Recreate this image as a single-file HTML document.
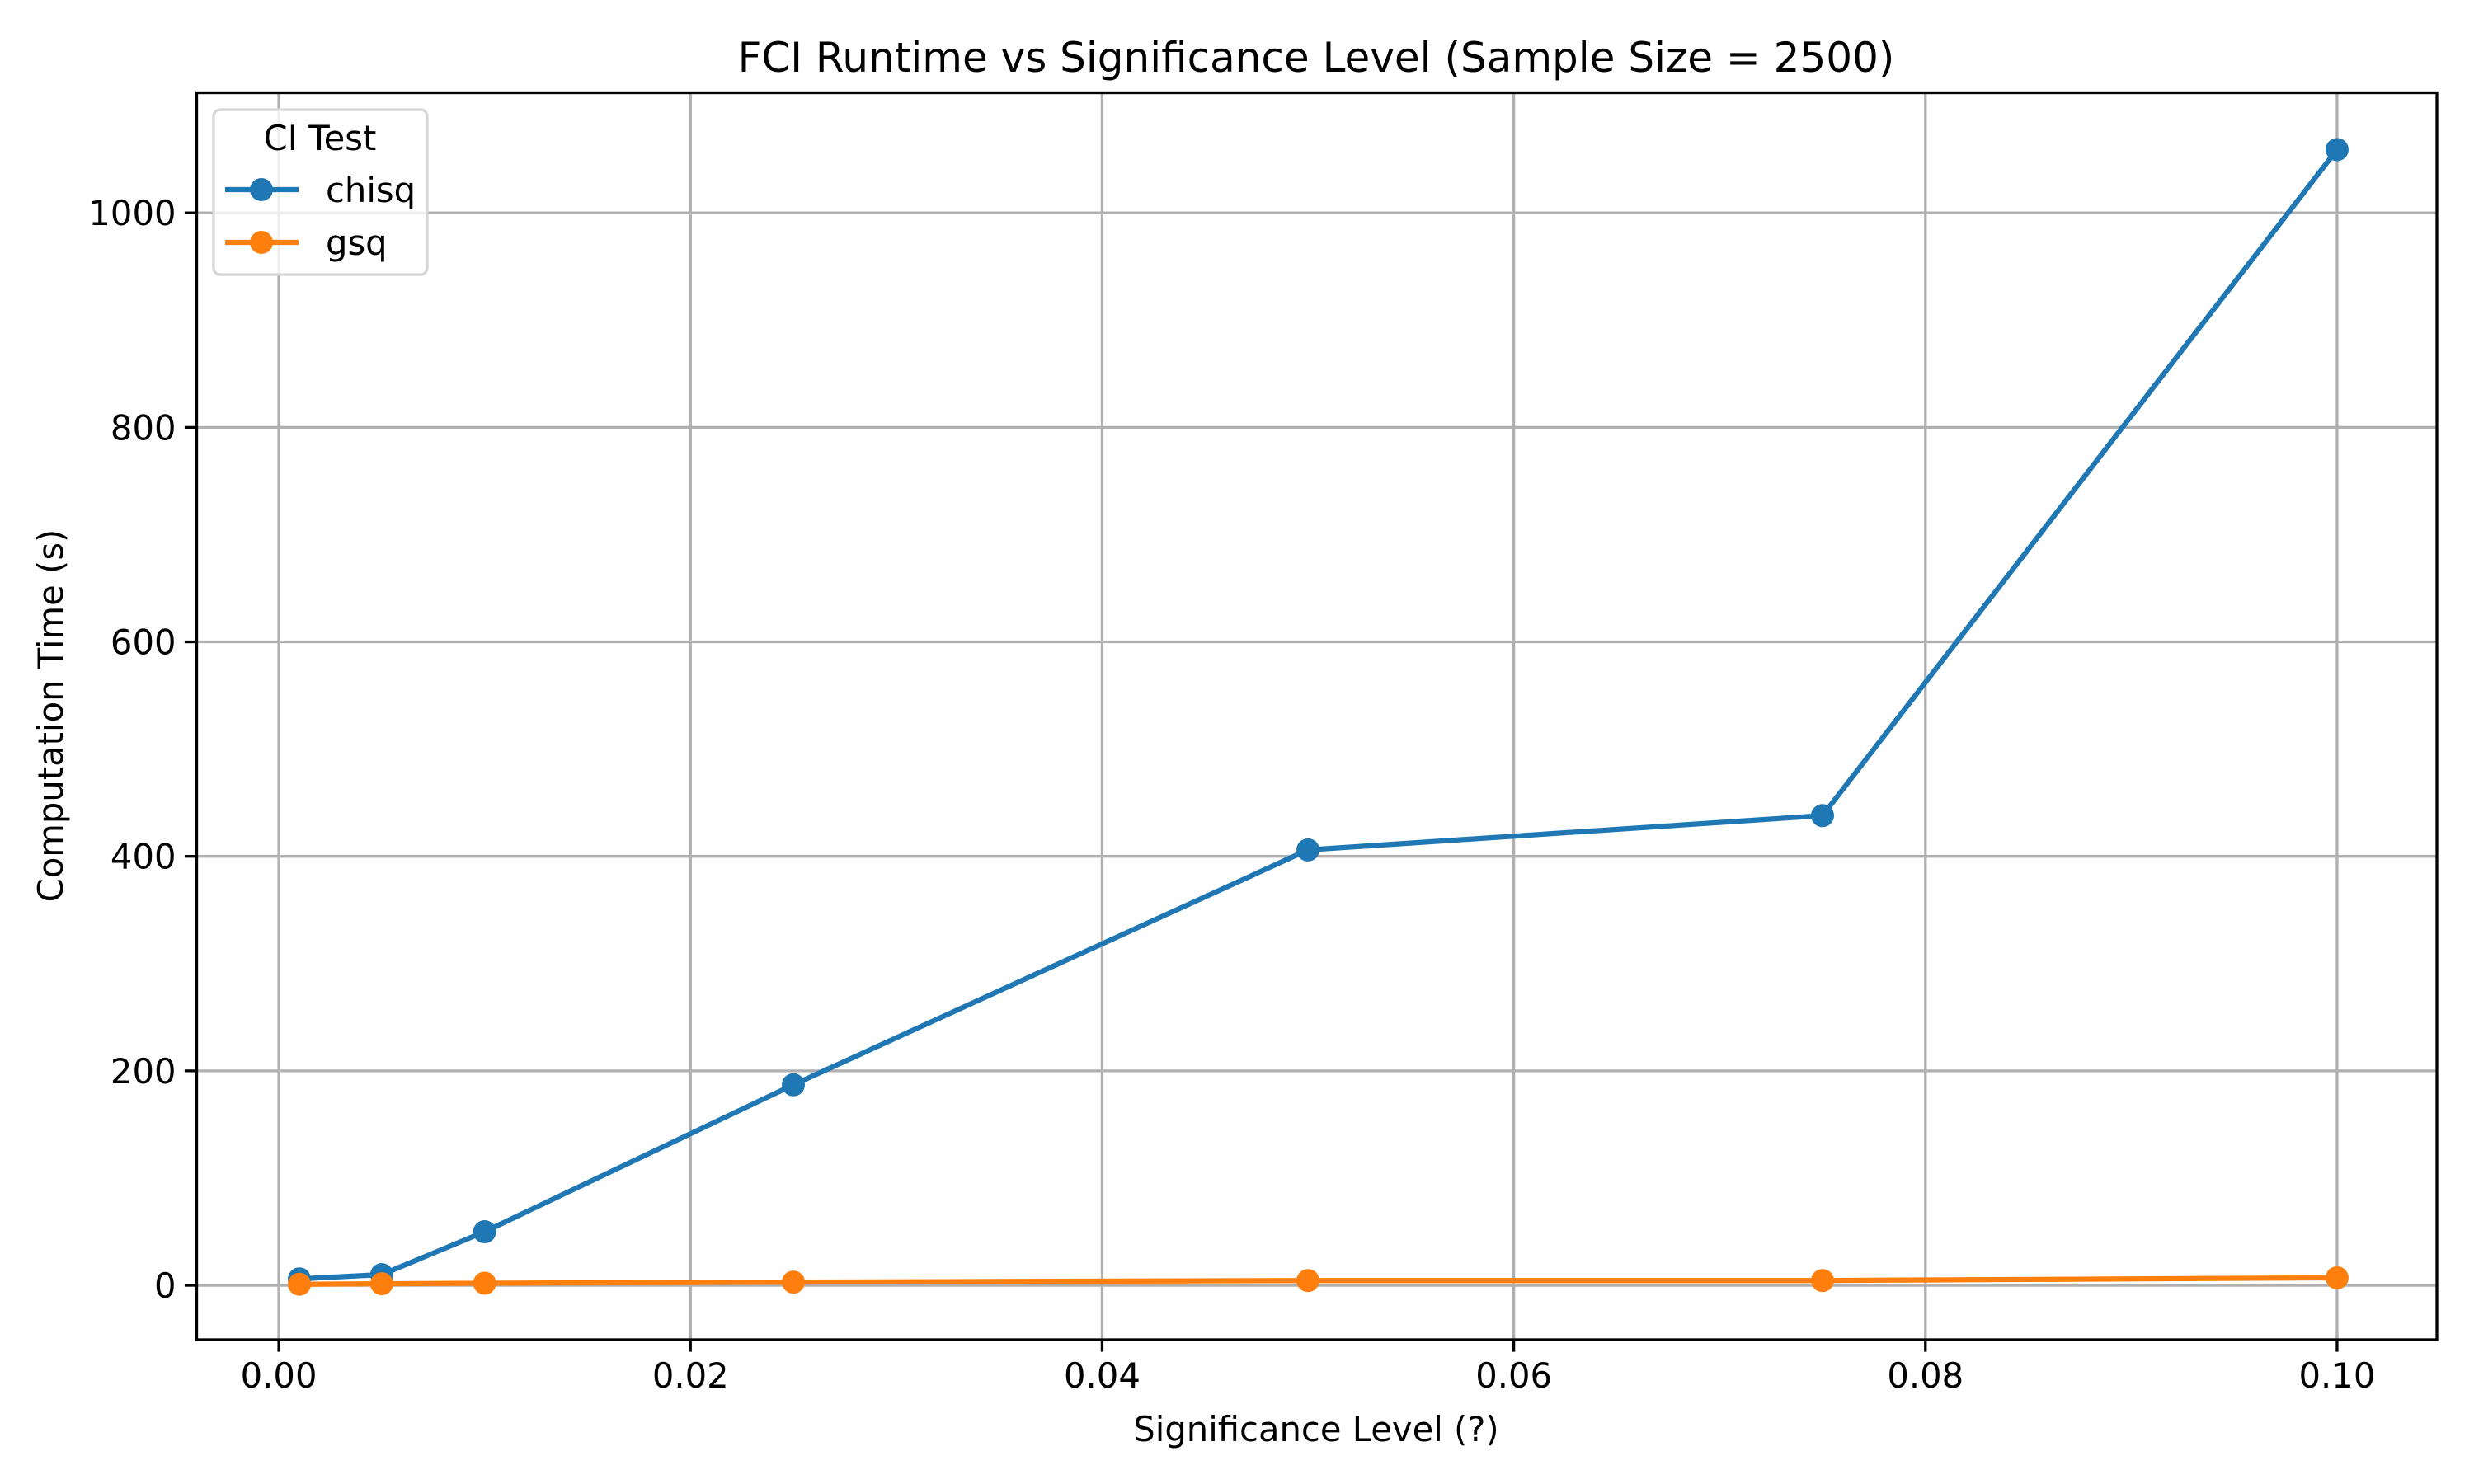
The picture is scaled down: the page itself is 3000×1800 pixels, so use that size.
<!DOCTYPE html>
<html><head><meta charset="utf-8"><style>
html,body{margin:0;padding:0;background:#fff;}
svg{display:block;font-family:"DejaVu Sans","Liberation Sans",sans-serif;}
</style></head><body>
<svg id="chart" width="3000" height="1800" viewBox="0 0 3000 1800" xmlns="http://www.w3.org/2000/svg">
<rect width="3000" height="1800" fill="#fff"/>
<g id="grid"></g>
<g id="series"></g>
<rect x="238.5" y="112.5" width="2716.5" height="1512.5" fill="none" stroke="#000" stroke-width="3.3"/>
<g id="ticks"></g>
<text x="1596" y="87" font-size="50" text-anchor="middle">FCI Runtime vs Significance Level (Sample Size = 2500)</text>
<text x="1596" y="1748" font-size="41.7" text-anchor="middle">Significance Level (?)</text>
<text x="0" y="0" font-size="41.7" text-anchor="middle" transform="translate(76,868) rotate(-90)">Computation Time (s)</text>
<g>
<rect x="259" y="133" width="259" height="200" rx="8" fill="#fff" fill-opacity="0.8" stroke="#d6d6d6" stroke-width="3.3"/>
<text x="388" y="182" font-size="41.7" text-anchor="middle">CI Test</text>
<g>
<line x1="273" y1="230" x2="362" y2="230" stroke="#1f77b4" stroke-width="6.25"/>
<circle cx="317" cy="230" r="14" fill="#1f77b4"/>
<text x="395" y="245" font-size="41.7">chisq</text>
</g>
<g>
<line x1="273" y1="294" x2="362" y2="294" stroke="#ff7f0e" stroke-width="6.25"/>
<circle cx="317" cy="294" r="14" fill="#ff7f0e"/>
<text x="395" y="309" font-size="41.7">gsq</text>
</g>
</g>
</svg>
<script>
const alphas = [0.001, 0.005, 0.01, 0.025, 0.05, 0.075, 0.1];
const chisqTimes = [6, 10, 50, 187, 406, 438, 1059];
const gsqTimes = [1, 1.5, 2, 3, 4.5, 4.5, 7];
const xTicks = [0.00, 0.02, 0.04, 0.06, 0.08, 0.10];
const xTickLabels = ["0.00", "0.02", "0.04", "0.06", "0.08", "0.10"];
const yTicks = [0, 200, 400, 600, 800, 1000];
const yTickLabels = ["0", "200", "400", "600", "800", "1000"];

const NS = "http://www.w3.org/2000/svg";
const L = 238.5, R = 2955, T = 112.5, B = 1625;
const xMin = -0.00399, xMax = 0.10485, yMin = -50.7, yMax = 1112;
function xs(v){ return L + (v - xMin) / (xMax - xMin) * (R - L); }
function ys(v){ return B - (v - yMin) / (yMax - yMin) * (B - T); }
function mk(tag, attrs, parent){
  const e = document.createElementNS(NS, tag);
  for (const k in attrs) e.setAttribute(k, attrs[k]);
  parent.appendChild(e);
  return e;
}
const grid = document.getElementById('grid');
const ticks = document.getElementById('ticks');
const series = document.getElementById('series');

xTicks.forEach((t, i) => {
  const x = xs(t);
  const g = mk('line', {x1:x, x2:x, y1:T, y2:B, stroke:'#b0b0b0', 'stroke-width':3.3}, grid);
  
  
  const tk = mk('line', {x1:x, x2:x, y1:B, y2:B+14.6, stroke:'#000', 'stroke-width':3.3}, ticks);
  
  
  const lb = mk('text', {x:x, y:B+58, 'font-size':41.7, 'text-anchor':'middle'}, ticks);
  lb.textContent = xTickLabels[i];
  
  
});
yTicks.forEach((t, i) => {
  const y = ys(t);
  const g = mk('line', {x1:L, x2:R, y1:y, y2:y, stroke:'#b0b0b0', 'stroke-width':3.3}, grid);
  
  
  const tk = mk('line', {x1:L-14.6, x2:L, y1:y, y2:y, stroke:'#000', 'stroke-width':3.3}, ticks);
  
  
  const lb = mk('text', {x:L-25, y:y+15, 'font-size':41.7, 'text-anchor':'end'}, ticks);
  lb.textContent = yTickLabels[i];
  
  
});

function drawSeries(vals, color, name){
  const pts = alphas.map((a, i) => xs(a) + ',' + ys(vals[i])).join(' ');
  const pl = mk('polyline', {points:pts, fill:'none', stroke:color, 'stroke-width':6.25, 'stroke-linejoin':'round', 'stroke-linecap':'square'}, series);
  
  
  alphas.forEach((a, i) => {
    const c = mk('circle', {cx:xs(a), cy:ys(vals[i]), r:14, fill:color}, series);
    
    
  });
}
drawSeries(chisqTimes, '#1f77b4', 'chisq');
drawSeries(gsqTimes, '#ff7f0e', 'gsq');
</script>
</body></html>
